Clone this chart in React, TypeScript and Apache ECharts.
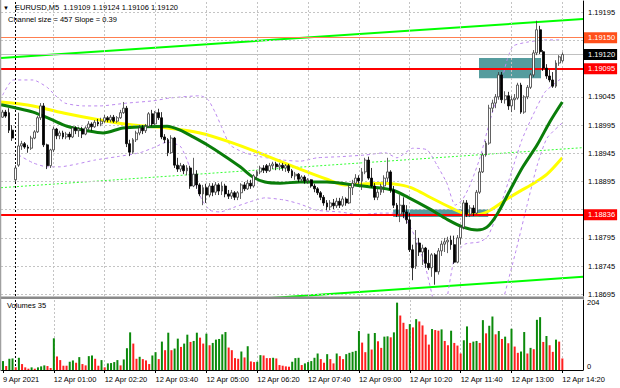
import { useEffect, useRef } from 'react';
import * as echarts from 'echarts';

const FONT = '"Liberation Sans", Arial, sans-serif';
const FS = 7.5;

// [open, close, low, high] per 5-minute bar (9 Apr 23:40 ... 12 Apr 14:20)
const ohlc: number[][] = [
  [1.19009, 1.19018, 1.19008, 1.19022], [1.19018, 1.19011, 1.19008, 1.19022], [1.19017, 1.18986, 1.18981, 1.19025], [1.18986, 1.18972, 1.18967, 1.18995],
  [1.18898, 1.18919, 1.18894, 1.18924], [1.18924, 1.18958, 1.18921, 1.19017], [1.18958, 1.18962, 1.18951, 1.18967], [1.18962, 1.18956, 1.18953, 1.18965],
  [1.18956, 1.18954, 1.18946, 1.18960], [1.18954, 1.18972, 1.18951, 1.18976], [1.18972, 1.18983, 1.18970, 1.18986], [1.18983, 1.19008, 1.18981, 1.19011],
  [1.19008, 1.19029, 1.19004, 1.19034], [1.19029, 1.18960, 1.18956, 1.19034], [1.18960, 1.18923, 1.18917, 1.18962], [1.18923, 1.18951, 1.18919, 1.18953],
  [1.18951, 1.18988, 1.18947, 1.18992], [1.18988, 1.18976, 1.18970, 1.18990], [1.18976, 1.18981, 1.18970, 1.18985], [1.18981, 1.18974, 1.18970, 1.18985],
  [1.18974, 1.18979, 1.18970, 1.18983], [1.18979, 1.18974, 1.18969, 1.18983], [1.18974, 1.18990, 1.18972, 1.18993], [1.18990, 1.18985, 1.18979, 1.18993],
  [1.18985, 1.18988, 1.18974, 1.18992], [1.18988, 1.18979, 1.18972, 1.18992], [1.18979, 1.18990, 1.18977, 1.18993], [1.18990, 1.18997, 1.18986, 1.19002],
  [1.18997, 1.18992, 1.18985, 1.19000], [1.18992, 1.19000, 1.18990, 1.19004], [1.19000, 1.18997, 1.18993, 1.19006], [1.18997, 1.19002, 1.18993, 1.19008],
  [1.19002, 1.19008, 1.18999, 1.19013], [1.19008, 1.19004, 1.19000, 1.19011], [1.19004, 1.19009, 1.19000, 1.19013], [1.19009, 1.19002, 1.18999, 1.19013],
  [1.19002, 1.19008, 1.18999, 1.19011], [1.19008, 1.19017, 1.19006, 1.19022], [1.19017, 1.19025, 1.19015, 1.19036], [1.19025, 1.18962, 1.18956, 1.19029],
  [1.18962, 1.18947, 1.18940, 1.18969], [1.18947, 1.18969, 1.18944, 1.18972], [1.18969, 1.18981, 1.18965, 1.18985], [1.18981, 1.18990, 1.18977, 1.18995],
  [1.18990, 1.18985, 1.18979, 1.18995], [1.18985, 1.18993, 1.18981, 1.18997], [1.18993, 1.19015, 1.18990, 1.19018], [1.19015, 1.18997, 1.18993, 1.19022],
  [1.18997, 1.19017, 1.18995, 1.19020], [1.19017, 1.19008, 1.19004, 1.19024], [1.19008, 1.18974, 1.18970, 1.19018], [1.18974, 1.18969, 1.18963, 1.18979],
  [1.18969, 1.18946, 1.18940, 1.18972], [1.18946, 1.18972, 1.18944, 1.18977], [1.18972, 1.18924, 1.18919, 1.18974], [1.18924, 1.18917, 1.18912, 1.18937],
  [1.18917, 1.18923, 1.18912, 1.18928], [1.18923, 1.18914, 1.18908, 1.18926], [1.18914, 1.18919, 1.18906, 1.18924], [1.18919, 1.18887, 1.18882, 1.18923],
  [1.18887, 1.18908, 1.18885, 1.18937], [1.18908, 1.18889, 1.18882, 1.18915], [1.18889, 1.18873, 1.18869, 1.18892], [1.18873, 1.18884, 1.18853, 1.18889],
  [1.18884, 1.18871, 1.18857, 1.18891], [1.18871, 1.18887, 1.18867, 1.18892], [1.18887, 1.18876, 1.18869, 1.18892], [1.18876, 1.18889, 1.18871, 1.18894],
  [1.18889, 1.18878, 1.18871, 1.18892], [1.18878, 1.18887, 1.18871, 1.18894], [1.18887, 1.18873, 1.18867, 1.18891], [1.18873, 1.18869, 1.18864, 1.18880],
  [1.18869, 1.18875, 1.18864, 1.18880], [1.18875, 1.18867, 1.18862, 1.18878], [1.18867, 1.18875, 1.18862, 1.18878], [1.18875, 1.18889, 1.18864, 1.18892],
  [1.18889, 1.18882, 1.18878, 1.18894], [1.18882, 1.18892, 1.18880, 1.18898], [1.18892, 1.18887, 1.18882, 1.18898], [1.18887, 1.18905, 1.18884, 1.18908],
  [1.18905, 1.18912, 1.18899, 1.18915], [1.18912, 1.18919, 1.18908, 1.18923], [1.18919, 1.18915, 1.18910, 1.18924], [1.18923, 1.18914, 1.18910, 1.18926],
  [1.18914, 1.18923, 1.18912, 1.18928], [1.18923, 1.18926, 1.18917, 1.18930], [1.18926, 1.18921, 1.18915, 1.18930], [1.18921, 1.18924, 1.18915, 1.18928],
  [1.18924, 1.18919, 1.18914, 1.18928], [1.18919, 1.18923, 1.18912, 1.18926], [1.18923, 1.18914, 1.18910, 1.18926], [1.18914, 1.18905, 1.18901, 1.18917],
  [1.18905, 1.18908, 1.18898, 1.18912], [1.18908, 1.18899, 1.18894, 1.18910], [1.18899, 1.18903, 1.18894, 1.18906], [1.18903, 1.18896, 1.18891, 1.18906],
  [1.18896, 1.18898, 1.18891, 1.18901], [1.18898, 1.18887, 1.18884, 1.18899], [1.18887, 1.18882, 1.18876, 1.18891], [1.18882, 1.18875, 1.18871, 1.18885],
  [1.18875, 1.18867, 1.18862, 1.18878], [1.18867, 1.18857, 1.18852, 1.18871], [1.18857, 1.18850, 1.18844, 1.18862], [1.18850, 1.18857, 1.18844, 1.18862],
  [1.18857, 1.18852, 1.18846, 1.18864], [1.18852, 1.18860, 1.18848, 1.18866], [1.18860, 1.18853, 1.18848, 1.18866], [1.18853, 1.18864, 1.18850, 1.18869],
  [1.18864, 1.18857, 1.18852, 1.18867], [1.18857, 1.18884, 1.18855, 1.18889], [1.18884, 1.18892, 1.18871, 1.18898], [1.18892, 1.18901, 1.18887, 1.18908],
  [1.18901, 1.18896, 1.18891, 1.18906], [1.18896, 1.18912, 1.18880, 1.18919], [1.18912, 1.18933, 1.18908, 1.18937], [1.18933, 1.18901, 1.18898, 1.18939],
  [1.18901, 1.18887, 1.18884, 1.18919], [1.18887, 1.18867, 1.18862, 1.18892], [1.18867, 1.18876, 1.18862, 1.18882], [1.18876, 1.18887, 1.18871, 1.18891],
  [1.18887, 1.18901, 1.18875, 1.18906], [1.18901, 1.18912, 1.18894, 1.18937], [1.18912, 1.18880, 1.18875, 1.18915], [1.18880, 1.18853, 1.18848, 1.18887],
  [1.18853, 1.18837, 1.18832, 1.18857], [1.18837, 1.18853, 1.18823, 1.18871], [1.18853, 1.18841, 1.18830, 1.18867], [1.18841, 1.18827, 1.18820, 1.18853],
  [1.18827, 1.18774, 1.18770, 1.18839], [1.18774, 1.18742, 1.18720, 1.18783], [1.18745, 1.18786, 1.18740, 1.18809], [1.18786, 1.18770, 1.18763, 1.18795],
  [1.18770, 1.18777, 1.18747, 1.18783], [1.18777, 1.18750, 1.18742, 1.18779], [1.18750, 1.18742, 1.18738, 1.18774], [1.18742, 1.18765, 1.18726, 1.18768],
  [1.18765, 1.18735, 1.18712, 1.18768], [1.18735, 1.18772, 1.18730, 1.18777], [1.18772, 1.18784, 1.18763, 1.18790], [1.18784, 1.18788, 1.18770, 1.18795],
  [1.18788, 1.18791, 1.18768, 1.18797], [1.18791, 1.18783, 1.18774, 1.18799], [1.18783, 1.18752, 1.18749, 1.18799], [1.18752, 1.18795, 1.18750, 1.18800],
  [1.18795, 1.18814, 1.18783, 1.18818], [1.18814, 1.18857, 1.18810, 1.18862], [1.18857, 1.18837, 1.18832, 1.18862], [1.18837, 1.18848, 1.18832, 1.18853],
  [1.18848, 1.18839, 1.18834, 1.18853], [1.18839, 1.18876, 1.18837, 1.18880], [1.18876, 1.18912, 1.18873, 1.18919], [1.18912, 1.18942, 1.18910, 1.18946],
  [1.18942, 1.18963, 1.18939, 1.18967], [1.18963, 1.19025, 1.18960, 1.19031], [1.19025, 1.19034, 1.19018, 1.19040], [1.19034, 1.19045, 1.19025, 1.19050],
  [1.19045, 1.19084, 1.19040, 1.19089], [1.19084, 1.19040, 1.19034, 1.19089], [1.19040, 1.19047, 1.19033, 1.19055], [1.19047, 1.19029, 1.19022, 1.19054],
  [1.19029, 1.19040, 1.19018, 1.19047], [1.19040, 1.19043, 1.19022, 1.19050], [1.19043, 1.19066, 1.19040, 1.19070], [1.19066, 1.19018, 1.19015, 1.19070],
  [1.19018, 1.19045, 1.19015, 1.19048], [1.19045, 1.19062, 1.19041, 1.19066], [1.19062, 1.19084, 1.19059, 1.19087], [1.19084, 1.19123, 1.19080, 1.19128],
  [1.19123, 1.19164, 1.19119, 1.19180], [1.19164, 1.19125, 1.19121, 1.19171], [1.19125, 1.19096, 1.19091, 1.19128], [1.19096, 1.19082, 1.19077, 1.19103],
  [1.19082, 1.19075, 1.19071, 1.19093], [1.19075, 1.19064, 1.19061, 1.19089], [1.19064, 1.19105, 1.19061, 1.19110], [1.19105, 1.19116, 1.19100, 1.19119],
  [1.19109, 1.19120, 1.19106, 1.19124],
];

const volumes: number[] = [
  27, 12, 34, 35, 8, 37, 18, 8, 4, 8, 4, 8, 11, 14, 12, 6,
  96, 41, 30, 13, 13, 25, 29, 22, 39, 18, 14, 42, 44, 34, 13, 30,
  8, 20, 21, 24, 30, 14, 32, 66, 114, 80, 34, 40, 33, 29, 18, 44,
  54, 33, 86, 60, 113, 60, 65, 95, 70, 80, 107, 85, 88, 113, 98, 80,
  110, 75, 82, 92, 94, 108, 115, 68, 60, 36, 34, 56, 38, 72, 26, 24,
  25, 45, 44, 36, 36, 37, 35, 15, 13, 11, 10, 25, 36, 37, 15, 20,
  24, 27, 37, 50, 33, 22, 48, 33, 20, 50, 42, 33, 48, 52, 55, 58,
  118, 83, 54, 110, 62, 112, 87, 67, 101, 102, 99, 114, 204, 165, 143, 124,
  139, 129, 154, 147, 135, 107, 77, 124, 121, 119, 123, 88, 75, 119, 82, 74,
  50, 90, 132, 82, 86, 88, 82, 151, 111, 134, 162, 108, 118, 94, 101, 81,
  125, 71, 52, 56, 115, 50, 67, 63, 152, 160, 85, 103, 75, 55, 92, 86,
  35,
];

// moving averages and bands, sampled along the bars: [bar index, price]
const maYellow: number[][] = [
  [-0.5, 1.19036], [9.6, 1.19029], [20.3, 1.19015], [30.6, 1.19004], [41, 1.18995], [51.7, 1.1899], [62.1, 1.18981],
  [72.5, 1.18963], [83.2, 1.1894], [93.5, 1.18917], [102, 1.18899], [107.7, 1.18889], [114.6, 1.18891], [120.3, 1.18892],
  [125, 1.18889], [129, 1.18883], [134.4, 1.18867], [139.7, 1.18852], [144.8, 1.18839], [149.2, 1.18836], [153.3, 1.18844],
  [158.6, 1.18864], [162.7, 1.18878], [166.8, 1.18891], [171.2, 1.18908], [176, 1.18937],
];
const maGreen: number[][] = [
  [-0.5, 1.19031], [4.5, 1.19025], [9.6, 1.19018], [14.9, 1.19006], [20.3, 1.18993], [26.6, 1.18985], [31.6, 1.18981],
  [37.9, 1.1899], [44.8, 1.18992], [51.7, 1.18993], [55.8, 1.18986], [59.9, 1.18974], [64.3, 1.1896], [69.3, 1.18942],
  [74.7, 1.18921], [78.7, 1.18903], [82.5, 1.18894], [87.2, 1.18892], [93.5, 1.18894], [102, 1.18894], [110.2, 1.18889],
  [116.5, 1.18885], [122.5, 1.1888], [127.5, 1.18867], [134.4, 1.18846], [139.7, 1.18828], [144.8, 1.18814], [149.2, 1.18809],
  [152.3, 1.18814], [155.5, 1.18837], [159.6, 1.1888], [163.6, 1.18921], [168.1, 1.1896], [172.1, 1.19001], [176, 1.19036],
];
const bandUpper: number[][] = [
  [0, 1.19048], [3.3, 1.19075], [9.6, 1.19075], [14, 1.19062], [16.5, 1.19048], [19.6, 1.19034], [25.3, 1.19029],
  [30.6, 1.19029], [39.1, 1.19034], [47.3, 1.19038], [52.6, 1.19043], [62.1, 1.19047], [64.6, 1.1904], [66.8, 1.19018],
  [69, 1.1899], [71.5, 1.1896], [75.6, 1.18947], [80.9, 1.18939], [88.2, 1.18933], [93.5, 1.18931], [98.9, 1.18937],
  [106.1, 1.18939], [114, 1.18942], [120.3, 1.18946], [124, 1.18937], [129, 1.18954], [133.5, 1.18951], [136.6, 1.18924],
  [139.7, 1.18892], [142.3, 1.18853], [144.5, 1.18862], [147, 1.18889], [150.1, 1.18937], [153.3, 1.19004], [156.4, 1.19062],
  [158.6, 1.1911], [160.5, 1.19135], [164.9, 1.19142], [170.6, 1.19146], [176, 1.19146],
];
const bandLower: number[][] = [
  [5, 1.18942], [9.6, 1.18928], [14, 1.18921], [18, 1.18921], [23.4, 1.18926], [29, 1.18933], [36, 1.18939],
  [43.2, 1.18946], [47.9, 1.18956], [51.7, 1.18965], [55.8, 1.18958], [58, 1.18933], [60.5, 1.18894], [62.7, 1.18862],
  [65.2, 1.18844], [68.4, 1.18841], [73.1, 1.1885], [77.8, 1.18859], [82.5, 1.18866], [88.8, 1.18862], [93.5, 1.18855],
  [98.9, 1.18844], [106.1, 1.18841], [112.4, 1.18836], [118.7, 1.18839], [123.4, 1.18839], [126.5, 1.1883], [129.7, 1.18797],
  [132.8, 1.18747], [135.4, 1.18685],
];
const bandInner: number[][] = [
  [139.7, 1.18685], [142.3, 1.18765], [145.4, 1.18784], [150.1, 1.18788], [152.6, 1.18798], [156.4, 1.1885],
  [160.2, 1.18915], [163.3, 1.18969], [166.8, 1.19013], [170.6, 1.19054], [176, 1.19079],
];
const bandOuter: number[][] = [
  [157.4, 1.18685], [161.5, 1.18774], [164.9, 1.18853], [168.1, 1.18924], [171.2, 1.18972], [176, 1.18999],
];

// regression channel end points
const channelUpper: number[][] = [[-0.5, 1.19114], [182.5, 1.19183]];
const channelMiddle: number[][] = [[-0.5, 1.18884], [182.5, 1.18955]];
const channelLower: number[][] = [[-0.5, 1.18656], [182.5, 1.18726]];

// rectangles: [fromIndex, toIndex, topPrice, bottomPrice]
const zoneUpper = [149.8, 169.3, 1.19114, 1.19078];
const zoneLower = [122.8, 152.7, 1.18846, 1.18832];

const levelSell = 1.1915;
const levelMid = 1.19095;
const levelLow = 1.18836;
const bidPrice = 1.1912;

const priceTicks = [1.18695, 1.18745, 1.18795, 1.18845, 1.18895, 1.18945, 1.18995, 1.19045, 1.19095, 1.19145, 1.19195];
const tickIndex = [0, 16, 32, 48, 64, 80, 96, 112, 128, 144, 160, 176];
const tickText = ['9 Apr 2021', '12 Apr 01:00', '12 Apr 02:20', '12 Apr 03:40', '12 Apr 05:00', '12 Apr 06:20',
  '12 Apr 07:40', '12 Apr 09:00', '12 Apr 10:20', '12 Apr 11:40', '12 Apr 13:00', '12 Apr 14:20'];
const volumeTicks = [0, 204];
const daySeparator = 4;
const slotCount = 183;

const pad = (n: number) => String(n).padStart(2, '0');
const categories = Array.from({ length: slotCount }, (_, i) => {
  if (i < 4) return `9 Apr 23:${40 + i * 5}`;
  const m = (i - 4) * 5;
  return `12 Apr ${pad(Math.floor(m / 60))}:${pad(m % 60)}`;
});

export default function App() {
  const ref = useRef<HTMLDivElement>(null);
  useEffect(() => {
    document.body.style.margin = '0';
    const chart = echarts.init(ref.current!, null, { renderer: 'svg' });
    const GREEN = '#0b8a0b';
    const RED = '#ff1f1f';
    const gridLine = { color: '#c4c4c4', type: [2, 2] as any, width: 1 };
    const sepLine = { color: '#000', type: [2, 2] as any, width: 1 };
    const box = (bg: string, t: string) => ({
      show: true, position: 'end', formatter: t, color: '#fff', backgroundColor: bg,
      padding: [2, 2, 1, 4], fontSize: FS, fontFamily: FONT, distance: 1,
    });
    const last = ohlc[ohlc.length - 1];
    const header = `EURUSD,M5  ${last[0].toFixed(5)} ${last[3].toFixed(5)} ${last[2].toFixed(5)} ${last[1].toFixed(5)}`;
    const showTick = (i: number) => tickIndex.indexOf(i) >= 0;
    // grid labels entirely hidden behind a level box in the reference are not drawn
    const covered = (p: number) => [levelMid, levelLow].some((l) => Math.abs(l - p) < 0.0001);
    const hiddenLine = (xi: number, yi: number, z: number) => ({
      type: 'line', xAxisIndex: xi, yAxisIndex: yi, data: [[0, yi === 0 ? 1.19 : 1]], symbol: 'none',
      lineStyle: { opacity: 0 }, silent: true, z,
    });
    const pline = (data: number[][], color: string, width: number, type: any, z: number, smooth = 0) => ({
      type: 'line', xAxisIndex: 1, yAxisIndex: 0, data, symbol: 'none', smooth, silent: true, z,
      lineStyle: { color, width, type },
    });

    chart.setOption({
      animation: false,
      grid: [
        { left: 1, top: 1, width: 582, height: 295 },
        { left: 1, top: 300, width: 582, height: 70 },
      ],
      xAxis: [
        { type: 'category', gridIndex: 0, data: categories, boundaryGap: true, show: false },
        { type: 'value', gridIndex: 0, min: -0.5, max: 182.5, show: false },
        {
          type: 'category', gridIndex: 1, data: categories, boundaryGap: true,
          axisLine: { show: true, lineStyle: { color: '#000', width: 1 } },
          axisTick: { show: true, alignWithLabel: true, interval: (i: number) => showTick(i), length: 3, lineStyle: { color: '#000' } },
          axisLabel: {
            show: true, interval: (i: number) => showTick(i), formatter: (_v: string, i: number) => tickText[tickIndex.indexOf(i)] || '',
            align: 'left', color: '#000', fontSize: FS, fontFamily: FONT, margin: 5,
          },
          splitLine: { show: false },
        },
        { type: 'value', gridIndex: 1, min: -0.5, max: 182.5, show: false },
      ],
      yAxis: [
        {
          type: 'value', gridIndex: 0, min: 1.18692, max: 1.19215, position: 'right',
          axisLine: { show: true, onZero: false, lineStyle: { color: '#000', width: 1 } },
          axisLabel: { show: false }, axisTick: { show: false }, splitLine: { show: false },
        },
        {
          type: 'value', gridIndex: 1, min: 0, max: 212, interval: 204, position: 'right',
          axisLine: { show: true, onZero: false, lineStyle: { color: '#000', width: 1 } },
          axisTick: { show: false }, splitLine: { show: false },
          axisLabel: {
            show: true, margin: 4, color: '#000', fontSize: FS, fontFamily: FONT,
            formatter: (v: number) => (v === volumeTicks[0] ? '{z|0}' : v === volumeTicks[1] ? String(v) : ''),
            rich: { z: { padding: [0, 0, 8, 0], fontSize: FS, fontFamily: FONT, color: '#000' } },
          },
        },
      ],
      series: [
        {
          ...hiddenLine(1, 0, 0),
          markLine: {
            silent: true, symbol: 'none', animation: false, precision: 5,
            data: [
              ...priceTicks.map((p) => ({
                yAxis: p, lineStyle: gridLine,
                label: { show: !covered(p), position: 'end', formatter: p.toFixed(5), color: '#000', fontSize: FS, fontFamily: FONT, distance: 5 },
              })),
              ...tickIndex.slice(1).map((i) => ({ xAxis: i, lineStyle: gridLine, label: { show: false } })),
              { xAxis: daySeparator, lineStyle: sepLine, label: { show: false } },
            ],
          },
        },
        {
          ...hiddenLine(3, 1, 0),
          markLine: {
            silent: true, symbol: 'none', animation: false, precision: 5,
            data: [
              ...tickIndex.slice(1).map((i) => ({ xAxis: i, lineStyle: gridLine, label: { show: false } })),
              { xAxis: daySeparator, lineStyle: sepLine, label: { show: false } },
            ],
          },
        },
        {
          ...hiddenLine(1, 0, 1),
          markArea: {
            silent: true, itemStyle: { color: '#559c9e', opacity: 1 },
            data: [
              [{ coord: [zoneUpper[0], zoneUpper[2]] }, { coord: [zoneUpper[1], zoneUpper[3]] }],
              [{ coord: [zoneLower[0], zoneLower[2]] }, { coord: [zoneLower[1], zoneLower[3]] }],
            ],
          },
        },
        pline(channelMiddle, '#33ff33', 1, [2, 2], 2),
        pline(channelUpper, '#00ff00', 2, 'solid', 2),
        pline(channelLower, '#00ff00', 2, 'solid', 2),
        pline(bandUpper, '#bb88ee', 1, [3, 3], 3, 0.2),
        pline(bandLower, '#bb88ee', 1, [3, 3], 3, 0.2),
        pline(bandInner, '#bb88ee', 1, [3, 3], 3, 0.2),
        pline(bandOuter, '#bb88ee', 1, [3, 3], 3, 0.2),
        pline(maYellow, '#ffff00', 3, 'solid', 4, 0.3),
        pline(maGreen, '#0a7d0a', 3, 'solid', 5, 0.3),
        {
          type: 'candlestick', xAxisIndex: 0, yAxisIndex: 0, data: ohlc, barWidth: 2.4, z: 10, silent: true,
          itemStyle: { color: '#ffffff', color0: '#000000', borderColor: '#3a3a3a', borderColor0: '#000000', borderWidth: 0.8 },
        },
        {
          ...hiddenLine(1, 0, 20),
          markLine: {
            silent: true, symbol: 'none', animation: false, precision: 5,
            data: [
              { yAxis: levelSell, lineStyle: { color: '#ff7f50', width: 1, type: 'solid' }, label: box('#ff4f1a', levelSell.toFixed(5)) },
              { yAxis: bidPrice, lineStyle: { color: '#c0c0c0', width: 1, type: 'solid' }, label: box('#000000', bidPrice.toFixed(5)) },
              { yAxis: levelMid, lineStyle: { color: '#ff0000', width: 2, type: 'solid' }, label: box('#ff0000', levelMid.toFixed(5)) },
              { yAxis: levelLow, lineStyle: { color: '#ff0000', width: 2, type: 'solid' }, label: box('#ff0000', levelLow.toFixed(5)) },
            ],
          },
        },
        {
          type: 'bar', xAxisIndex: 2, yAxisIndex: 1, barWidth: 2, z: 10, silent: true,
          data: volumes.map((v, i) => ({ value: v, itemStyle: { color: i === 0 || v > volumes[i - 1] ? GREEN : RED } })),
        },
      ],
      graphic: [
        { type: 'rect', shape: { x: 0, y: 296.5, width: 584, height: 2.5 }, style: { fill: '#8a8a8a' }, silent: true, z: 50 },
        { type: 'line', shape: { x1: 0.5, y1: 0, x2: 0.5, y2: 371 }, style: { stroke: '#a0a0a0', lineWidth: 1.5 }, silent: true, z: 50 },
        { type: 'text', x: 3, y: 7.5, style: { text: '▼', fontSize: 6, fontFamily: FONT, fill: '#000', verticalAlign: 'middle' }, z: 50 },
        { type: 'text', x: 15, y: 7.5, style: { text: header, fontSize: FS, fontFamily: FONT, fill: '#000', verticalAlign: 'middle' }, z: 50 },
        { type: 'text', x: 8, y: 19, style: { text: 'Channel size = 457 Slope = 0.39', fontSize: FS, fontFamily: FONT, fill: '#000', verticalAlign: 'middle' }, z: 50 },
        { type: 'text', x: 7, y: 305, style: { text: `Volumes ${volumes[volumes.length - 1]}`, fontSize: FS, fontFamily: FONT, fill: '#000', verticalAlign: 'middle' }, z: 50 },
      ],
    });
    return () => chart.dispose();
  }, []);
  return <div ref={ref} style={{ width: 620, height: 388 }} />;
}
